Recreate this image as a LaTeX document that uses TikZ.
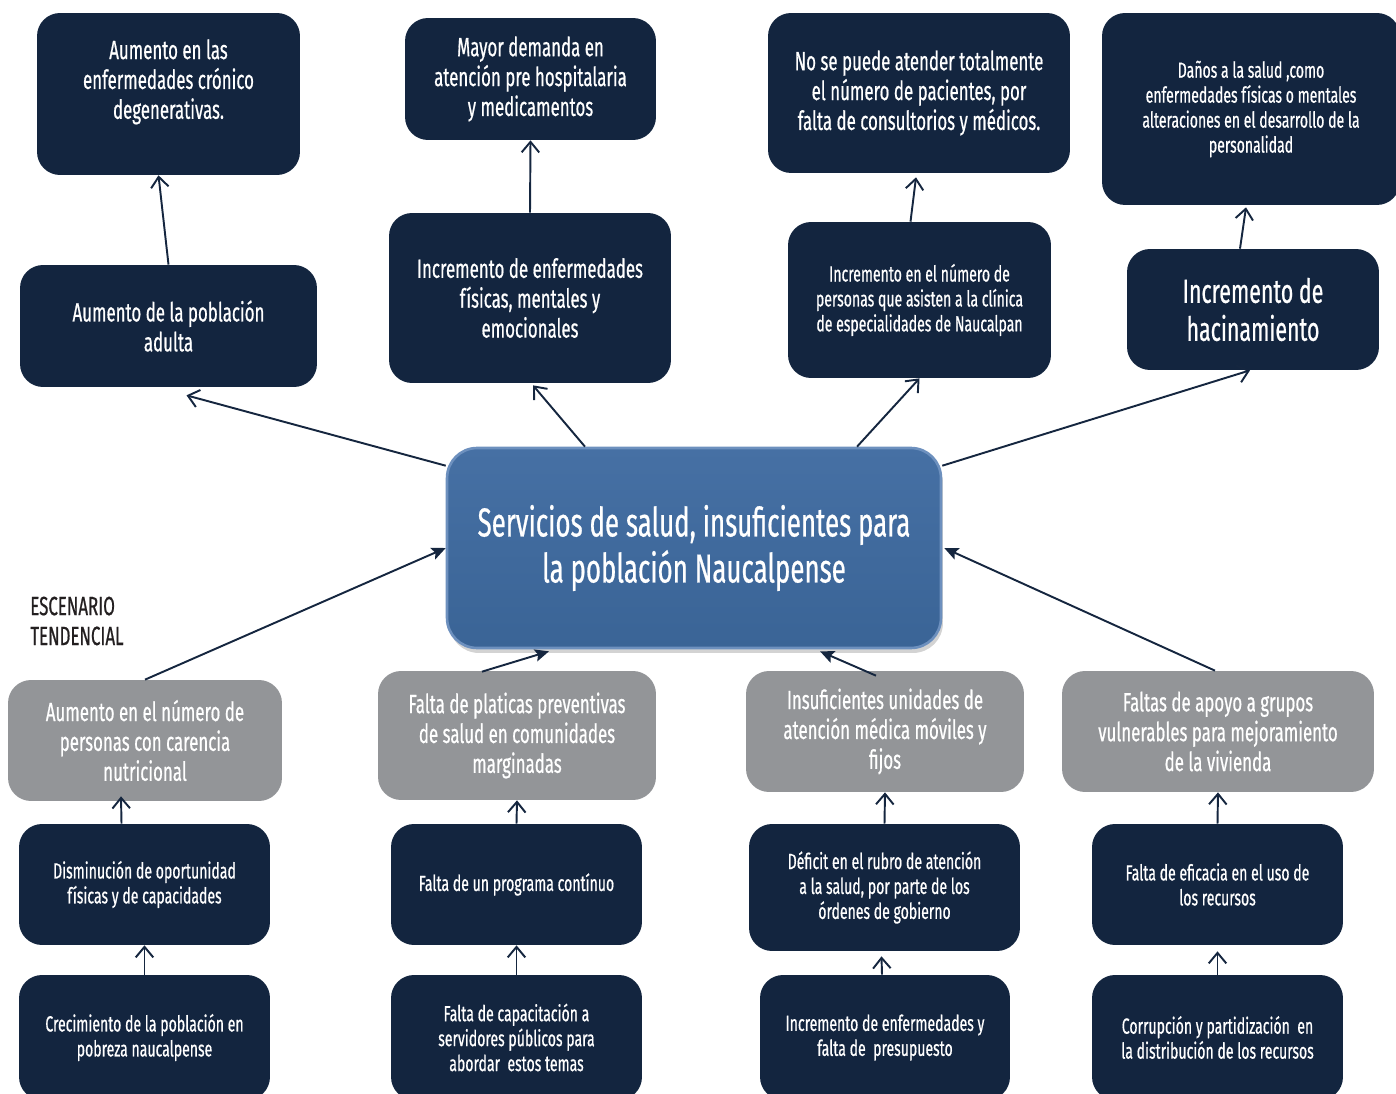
\documentclass[tikz,border=0pt]{standalone}
\usepackage{fontspec}
\setmainfont[FakeStretch=0.64,FakeBold=0.6]{Fira Sans}
\usetikzlibrary{arrows.meta,calc,shadows}

\begin{document}
\begin{tikzpicture}[x=0.02cm,y=-0.02cm,
  dark/.style={fill=navyBox,text=white,rounded corners=0.46cm,align=center,inner sep=0pt,font=\fontsize{15}{17}\selectfont},
  grey/.style={dark,fill=greyBox},
  small/.style={font=\fontsize{12.5}{14.2}\selectfont},
  openarr/.style={draw=navyLine,line width=1.1pt,-{Straight Barb[length=6pt,width=10pt,line width=1.1pt]}},
  fullarr/.style={draw=navyLine,line width=1.1pt,-{Stealth[length=8pt,width=7pt,inset=1.5pt]}}]
\definecolor{navyBox}{HTML}{13253F}
\definecolor{navyLine}{HTML}{15263F}
\definecolor{greyBox}{HTML}{939598}
\definecolor{centreTop}{HTML}{4670A4}
\definecolor{centreBot}{HTML}{3A6496}
\definecolor{centreEdge}{HTML}{6D90BE}
\definecolor{labelInk}{HTML}{231F20}
\useasboundingbox (0,0) rectangle (1396,1094);
\clip (0,0) rectangle (1396,1094);

\node[dark,minimum width=5.26cm,minimum height=3.24cm] (a1) at (168.5,94) {Aumento en las\\enfermedades crónico\\degenerativas.\\\mbox{}};
\node[dark,minimum width=5.02cm,minimum height=2.44cm] (a2) at (530.5,79) {Mayor demanda en\\atención pre hospitalaria\\y medicamentos};
\node[dark,minimum width=6.04cm,minimum height=3.2cm] (a3) at (919,93) {No se puede atender totalmente\\el número de pacientes, por\\falta de consultorios y médicos.};
\node[dark,small,minimum width=5.96cm,minimum height=3.84cm] (a4) at (1251,109) {Daños a la salud ,como\\enfermedades físicas o mentales\\alteraciones en el desarrollo de la\\personalidad};

\node[dark,minimum width=5.94cm,minimum height=2.44cm] (b1) at (168.5,326) {Aumento de la población\\adulta};
\node[dark,minimum width=5.64cm,minimum height=3.4cm] (b2) at (530,298) {Incremento de enfermedades\\físicas, mentales y\\emocionales};
\node[dark,small,minimum width=5.26cm,minimum height=3.12cm] (b3) at (919.5,300) {Incremento en el número de\\personas que asisten a la clínica\\de especialidades de Naucalpan};
\node[dark,font=\fontsize{19}{21.6}\selectfont,minimum width=5.04cm,minimum height=2.42cm] (b4) at (1253,309.5) {Incremento de\\hacinamiento};

\node[draw=centreEdge,line width=1.5pt,top color=centreTop,bottom color=centreBot,rounded corners=0.6cm,
  minimum width=9.88cm,minimum height=4cm,text=white,align=center,font=\fontsize{23}{26.2}\selectfont,
  drop shadow={opacity=0.35,shadow xshift=0.04cm,shadow yshift=-0.1cm}] (c) at (694,548)
  {Servicios de salud, insuficientes para\\la población Naucalpense};

\node[anchor=west,align=left,text=labelInk,inner xsep=0pt,font=\fontsize{15}{17}\selectfont] (scen) at (30,621) {ESCENARIO\\TENDENCIAL};

\node[grey,minimum width=5.48cm,minimum height=2.42cm] (g1) at (145,740.5) {Aumento en el número de\\personas con carencia\\nutricional};
\node[grey,minimum width=5.56cm,minimum height=2.58cm] (g2) at (517,735.5) {Falta de platicas preventivas\\de salud en comunidades\\marginadas};
\node[grey,minimum width=5.56cm,minimum height=2.42cm] (g3) at (885,731.5) {Insuficientes unidades de\\atención médica móviles y\\fijos};
\node[grey,minimum width=6.24cm,minimum height=2.42cm] (g4) at (1218,731.5) {Faltas de apoyo a grupos\\vulnerables para mejoramiento\\de la vivienda};

\node[dark,small,minimum width=5.02cm,minimum height=2.42cm] (d1) at (144.5,884.5) {Disminución de oportunidad\\físicas y de capacidades};
\node[dark,small,minimum width=5.02cm,minimum height=2.42cm] (d2) at (516.5,884.5) {Falta de un programa contínuo};
\node[dark,small,minimum width=5.42cm,minimum height=2.54cm] (d3) at (884.5,887.5) {Déficit en el rubro de atención\\a la salud, por parte de los\\órdenes de gobierno};
\node[dark,small,minimum width=5.02cm,minimum height=2.42cm] (d4) at (1217.5,884.5) {Falta de eficacia en el uso de\\los recursos};

\node[dark,small,minimum width=5.02cm,minimum height=2.5cm] (e1) at (144.5,1037.5) {Crecimiento de la población en\\pobreza naucalpense};
\node[dark,small,minimum width=5.02cm,minimum height=2.5cm] (e2) at (516.5,1037.5) {Falta de capacitación a\\servidores públicos para\\abordar\ \ estos temas};
\node[dark,small,minimum width=5.0cm,minimum height=2.5cm] (e3) at (885,1037.5) {Incremento de enfermedades y\\falta de\ \ presupuesto};
\node[dark,small,minimum width=5.02cm,minimum height=2.5cm] (e4) at (1217.5,1037.5) {Corrupción y partidización\ \ en\\la distribución de los recursos};

\draw[openarr] ($(c.north west)+(0,19)$) -- ($(b1.south)+(18,8)$);
\draw[openarr] ($(c.north)+(-109,0)$) -- ($(b2.south)+(3,2)$);
\draw[openarr] ($(c.north)+(163,0)$) -- (b3.south);
\draw[openarr] ($(c.north east)+(0,19)$) -- ($(b4.south)+(-3,0)$);

\draw[openarr] (b1.north) -- ($(a1.south)+(-10,0)$);
\draw[openarr] (b2.north) -- (a2.south);
\draw[openarr] ($(b3.north)+(-9,0)$) -- ($(a3.south)+(-3,4)$);
\draw[openarr] ($(b4.north)+(-13,0)$) -- ($(a4.south)+(-5,2)$);

\draw[fullarr] (g1.north) -- (c.west);
\draw[fullarr] ($(g2.north)+(-35,1)$) -- ($(c.south)+(-145,2)$);
\draw[fullarr] ($(g3.north)+(-9,5)$) -- ($(c.south)+(126,2)$);
\draw[fullarr] ($(g4.north)+(-3,0)$) -- ($(c.east)+(2,0)$);

\draw[openarr] ($(d1.north)+(-23,0)$) -- ($(g1.south)+(-24,-5)$);
\draw[openarr] (d2.north) -- (g2.south);
\draw[openarr] (d3.north) -- (g3.south);
\draw[openarr] (d4.north) -- (g4.south);

\draw[openarr] (e1.north) -- (d1.south);
\draw[openarr] (e2.north) -- (d2.south);
\draw[openarr] ($(e3.north)+(-3,0)$) -- ($(d3.south)+(-3,5)$);
\draw[openarr] (e4.north) -- ($(d4.south)+(0,6)$);
\end{tikzpicture}
\end{document}
